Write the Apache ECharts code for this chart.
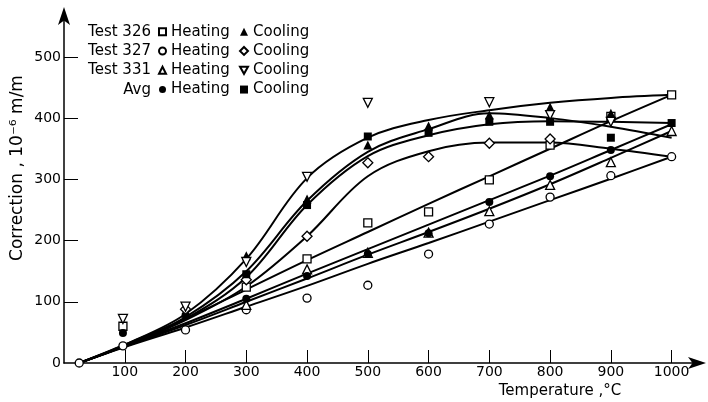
<!DOCTYPE html>
<html>
<head>
<meta charset="utf-8">
<script src="https://cdn.jsdelivr.net/npm/echarts@6/dist/echarts.min.js"></script>
<style>html,body{margin:0;padding:0;background:#fff}#c{width:708px;height:402px}</style>
</head>
<body>
<div id="c"></div>
<script>
// ---- data ----
const temps = [25, 97, 200, 300, 400, 500, 600, 700, 800, 900, 1000];
// measured points (null = no point)
const heat326 = [null, 60, null, 124, 170, 229, 247, 299, 356, 403, 438];
const cool326 = [null, null, null, 175, 268, 356, 387, 405, 418, 408, null];
const heat327 = [0, 28, 54, 87, 106, 127, 178, 227, 271, 306, 337];
const cool327 = [null, null, 88, 136, 207, 327, 337, 359, 366, null, null];
const heat331 = [null, null, null, 95, 153, 180, 213, 248, 291, 328, 379];
const cool331 = [null, 72, 92, 165, 304, 425, null, 426, 405, 394, null];
const heatAvg = [null, 49, 78, 105, 142, 178, 212, 263, 305, 348, null];
const coolAvg = [null, null, null, 145, 258, 370, 376, 394, 394, 368, 392];

// fitted curves
const curveTemps = [25, 100, 200, 300, 400, 500, 600, 700, 800, 900, 1000];
const fitHeat326 = [0, 30, 72, 120, 168, 214, 260, 305, 350, 395, 438];
const fitHeatAvg = [0, 28, 65, 105, 146, 186, 226, 266, 306, 348, 390];
const fitHeat331 = [0, 27, 62, 100, 138, 177, 214, 252, 292, 335, 379];
const fitHeat327 = [0, 26, 58, 92, 126, 162, 196, 231, 266, 301, 337];
const fitCoolA = [0, 30, 80, 170, 302, 368, 397, 413, 425, 433, 438];
const fitCoolB = [0, 28, 72, 140, 258, 338, 372, 390, 395, 394, 392];
const fitCoolC = [0, 28, 75, 150, 265, 345, 382, 408, 400, 386, 368];
const fitCoolD = [0, 28, 70, 125, 207, 305, 346, 360, 360, 350, 337];

const rowLabels = ['Test 326', 'Test 327', 'Test 331', 'Avg'];
const xTicks = [100, 200, 300, 400, 500, 600, 700, 800, 900, 1000];
const yTicks = [0, 100, 200, 300, 400, 500];

// ---- build ----
const FONT = 'DejaVu Sans';
function pts(vals, xs) {
  const out = [];
  vals.forEach((v, i) => { if (v !== null) out.push([xs[i], v]); });
  return out;
}
const downTri = 'path://M0,0 L10,0 L5,9 Z';
function scatter(name, vals, symbol, filled, size) {
  return {
    name, type: 'scatter', data: pts(vals, temps), symbol, symbolSize: size || 8,
    itemStyle: filled ? { color: '#000', opacity: 1 } : { color: '#fff', borderColor: '#000', borderWidth: 1.3, opacity: 1 },
    z: 5
  };
}
function fit(vals) {
  return {
    type: 'line', data: pts(vals, curveTemps), smooth: 0.35, symbol: 'none',
    lineStyle: { color: '#000', width: 2 }, z: 3, silent: true
  };
}

const heatNames = ['Test 326 Heating', 'Test 327 Heating', 'Test 331 Heating', 'Avg Heating'];
const coolNames = ['Test 326 Cooling', 'Test 327 Cooling', 'Test 331 Cooling', 'Avg Cooling'];

const series = [
  fit(fitHeat326), fit(fitHeatAvg), fit(fitHeat331), fit(fitHeat327),
  fit(fitCoolA), fit(fitCoolB), fit(fitCoolC), fit(fitCoolD),
  scatter(heatNames[0], heat326, 'rect', false, 8),
  scatter(heatNames[1], heat327, 'circle', false, 8),
  scatter(heatNames[2], heat331, 'triangle', false, 9),
  scatter(heatNames[3], heatAvg, 'circle', true, 8),
  scatter(coolNames[0], cool326, 'triangle', true, 9),
  scatter(coolNames[1], cool327, 'diamond', false, 10),
  scatter(coolNames[2], cool331, downTri, false, 9),
  scatter(coolNames[3], coolAvg, 'rect', true, 8)
];

const rowY = [32, 51, 70, 90];
const chart = echarts.init(document.getElementById('c'));
chart.setOption({
  backgroundColor: '#fff',
  animation: false,
  grid: { left: 64, right: 6, top: 11, bottom: 39, containLabel: false },
  xAxis: {
    type: 'value', min: 0, max: 1050, interval: 50,
    axisLine: { lineStyle: { color: '#000', width: 1.5 }, symbol: ['none', 'arrow'], symbolSize: [9, 18], symbolOffset: [0, 4] },
    axisTick: { inside: true, length: 13, lineStyle: { color: '#000', width: 1 }, customValues: xTicks },
    axisLabel: { customValues: xTicks, formatter: v => String(v), color: '#000', fontSize: 14, fontFamily: FONT, margin: 2 },
    splitLine: { show: false }
  },
  yAxis: {
    type: 'value', min: 0, max: 575, interval: 25,
    axisLine: { show: true, lineStyle: { color: '#000', width: 1.5 }, symbol: ['none', 'arrow'], symbolSize: [9, 18], symbolOffset: [0, 4] },
    axisTick: { show: true, inside: true, length: 14, lineStyle: { color: '#000', width: 1 }, customValues: yTicks.slice(1) },
    axisLabel: { customValues: yTicks, formatter: v => String(v), color: '#000', fontSize: 14, fontFamily: FONT, margin: 3 },
    splitLine: { show: false }
  },
  legend: [
    {
      data: heatNames, orient: 'vertical', left: 158, top: 22, padding: 0,
      itemWidth: 7, itemHeight: 7, itemGap: 0, selectedMode: false,
      formatter: () => 'Heating',
      textStyle: { fontSize: 15, fontFamily: FONT, color: '#000', lineHeight: 19.3 }
    },
    {
      data: coolNames, orient: 'vertical', left: 239, top: 22, padding: 0,
      itemWidth: 8, itemHeight: 8, itemGap: 0, selectedMode: false,
      formatter: () => 'Cooling',
      textStyle: { fontSize: 15, fontFamily: FONT, color: '#000', lineHeight: 19.3 }
    }
  ],
  graphic: rowLabels.map((t, i) => ({
    type: 'text', x: 151, y: rowY[i],
    style: { text: t, fill: '#000', font: '15px "DejaVu Sans"', textAlign: 'right', textVerticalAlign: 'middle' }
  })).concat([
    { type: 'text', x: 560, y: 391, style: { text: 'Temperature ,°C', fill: '#000', font: '15px "DejaVu Sans"', textAlign: 'center', textVerticalAlign: 'middle' } },
    { type: 'text', x: 18, y: 168, rotation: Math.PI / 2, style: { text: 'Correction , 10⁻⁶ m/m', fill: '#000', font: '17px "DejaVu Sans"', textAlign: 'center', textVerticalAlign: 'middle' } }
  ]),
  series
});
</script>
</body>
</html>
